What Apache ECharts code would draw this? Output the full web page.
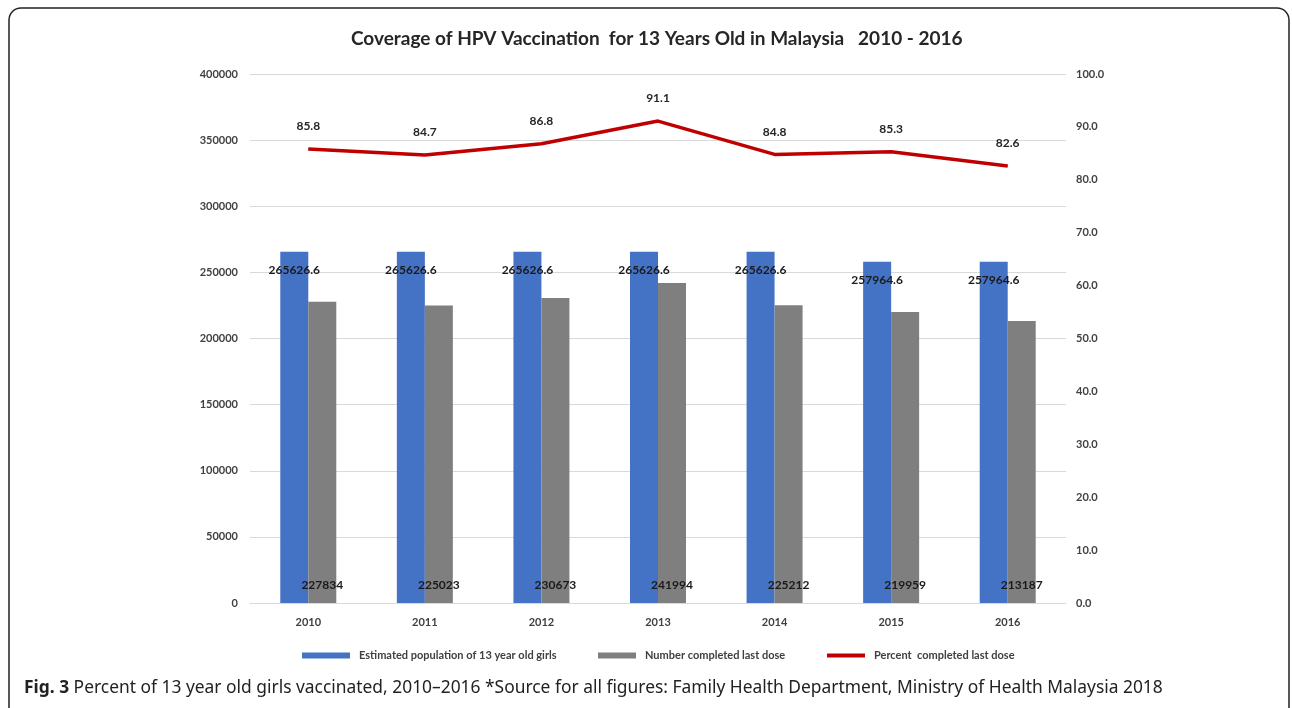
<!DOCTYPE html>
<html>
<head>
<meta charset="utf-8">
<script src="https://cdn.jsdelivr.net/npm/echarts@6/dist/echarts.min.js"></script>
<style>
html,body{margin:0;padding:0;background:#fff;}
#chart{width:1292px;height:708px;}
</style>
</head>
<body>
<div id="chart"></div>
<script>
const years = ['2010','2011','2012','2013','2014','2015','2016'];
const estimatedPopulation = [265626.6, 265626.6, 265626.6, 265626.6, 265626.6, 257964.6, 257964.6];
const completedLastDose = [227834, 225023, 230673, 241994, 225212, 219959, 213187];
const percentCompleted = [85.8, 84.7, 86.8, 91.1, 84.8, 85.3, 82.6];
const seriesNames = ['Estimated population of 13 year old girls', 'Number completed last dose', 'Percent  completed last dose'];
const titleText = 'Coverage of HPV Vaccination  for 13 Years Old in Malaysia   2010 - 2016';
const captionBold = 'Fig. 3';
const captionText = ' Percent of 13 year old girls vaccinated, 2010–2016 *Source for all figures: Family Health Department, Ministry of Health Malaysia 2018';

const chart = echarts.init(document.getElementById('chart'));
const axisFont = {fontFamily: 'Lato', fontSize: 11, fontWeight: 'bold', color: '#404040'};
const legendText = {fontFamily: 'Lato', fontSize: 11, fontWeight: 'bold', color: '#404040', padding: [0, 0, 0, 4]};
chart.setOption({
  animation: false,
  backgroundColor: '#fff',
  title: {
    text: titleText,
    left: 346,
    top: 24,
    textStyle: {fontFamily: 'Lato', fontSize: 19, fontWeight: 'bold', color: '#262626'}
  },
  legend: [
    {left: 297, top: 645, itemWidth: 48, itemHeight: 6, data: [{name: seriesNames[0], icon: 'rect'}], textStyle: legendText},
    {left: 593, top: 645, itemWidth: 38, itemHeight: 6, data: [{name: seriesNames[1], icon: 'rect'}], textStyle: legendText},
    {left: 822, top: 645, itemWidth: 38, itemHeight: 4, data: [{name: seriesNames[2], icon: 'rect'}], textStyle: legendText}
  ],
  grid: {left: 250, right: 226, top: 74, bottom: 105},
  xAxis: {
    type: 'category',
    data: years,
    axisLine: {lineStyle: {color: '#d9d9d9', width: 1}},
    axisTick: {show: false},
    axisLabel: Object.assign({margin: 14}, axisFont)
  },
  yAxis: [
    {
      type: 'value', min: 0, max: 400000, interval: 50000,
      axisLine: {show: false}, axisTick: {show: false},
      splitLine: {lineStyle: {color: '#d9d9d9', width: 1}},
      axisLabel: Object.assign({margin: 12, formatter: v => String(v)}, axisFont)
    },
    {
      type: 'value', min: 0, max: 100, interval: 10,
      axisLine: {show: false}, axisTick: {show: false},
      splitLine: {show: false},
      axisLabel: Object.assign({margin: 10, formatter: v => v.toFixed(1)}, axisFont)
    }
  ],
  series: [
    {
      name: seriesNames[0], type: 'bar', data: estimatedPopulation,
      barWidth: 28, barGap: '0%',
      itemStyle: {color: '#4472c4'},
      label: {show: true, position: 'insideTop', distance: 12, fontFamily: 'Lato', fontSize: 12, fontWeight: 'bold', color: '#1a1a1a'}
    },
    {
      name: seriesNames[1], type: 'bar', data: completedLastDose,
      barWidth: 28,
      itemStyle: {color: '#7f7f7f'},
      label: {show: true, position: 'insideBottom', distance: 12, fontFamily: 'Lato', fontSize: 12, fontWeight: 'bold', color: '#1a1a1a'}
    },
    {
      name: seriesNames[2], type: 'line', yAxisIndex: 1, data: percentCompleted,
      symbol: 'circle', symbolSize: 1, showSymbol: true,
      lineStyle: {color: '#c00000', width: 3.5}, itemStyle: {color: '#c00000'},
      label: {show: true, position: 'top', distance: 16, formatter: p => p.value.toFixed(1), fontFamily: 'Lato', fontSize: 12, fontWeight: 'bold', color: '#262626'}
    }
  ],
  graphic: [
    {type: 'rect', shape: {x: 9, y: 8, width: 1280, height: 712, r: 12}, style: {fill: 'none', stroke: '#222', lineWidth: 1.5}, silent: true},
    {type: 'text', left: 24, top: 680, style: {
      text: '{b|' + captionBold + '}{n|' + captionText + '}',
      rich: {
        b: {fontFamily: 'Noto Sans', fontSize: 17.4, fontWeight: 'bold', fill: '#222'},
        n: {fontFamily: 'Noto Sans', fontSize: 17.4, fill: '#222'}
      }
    }}
  ]
});
</script>
</body>
</html>
